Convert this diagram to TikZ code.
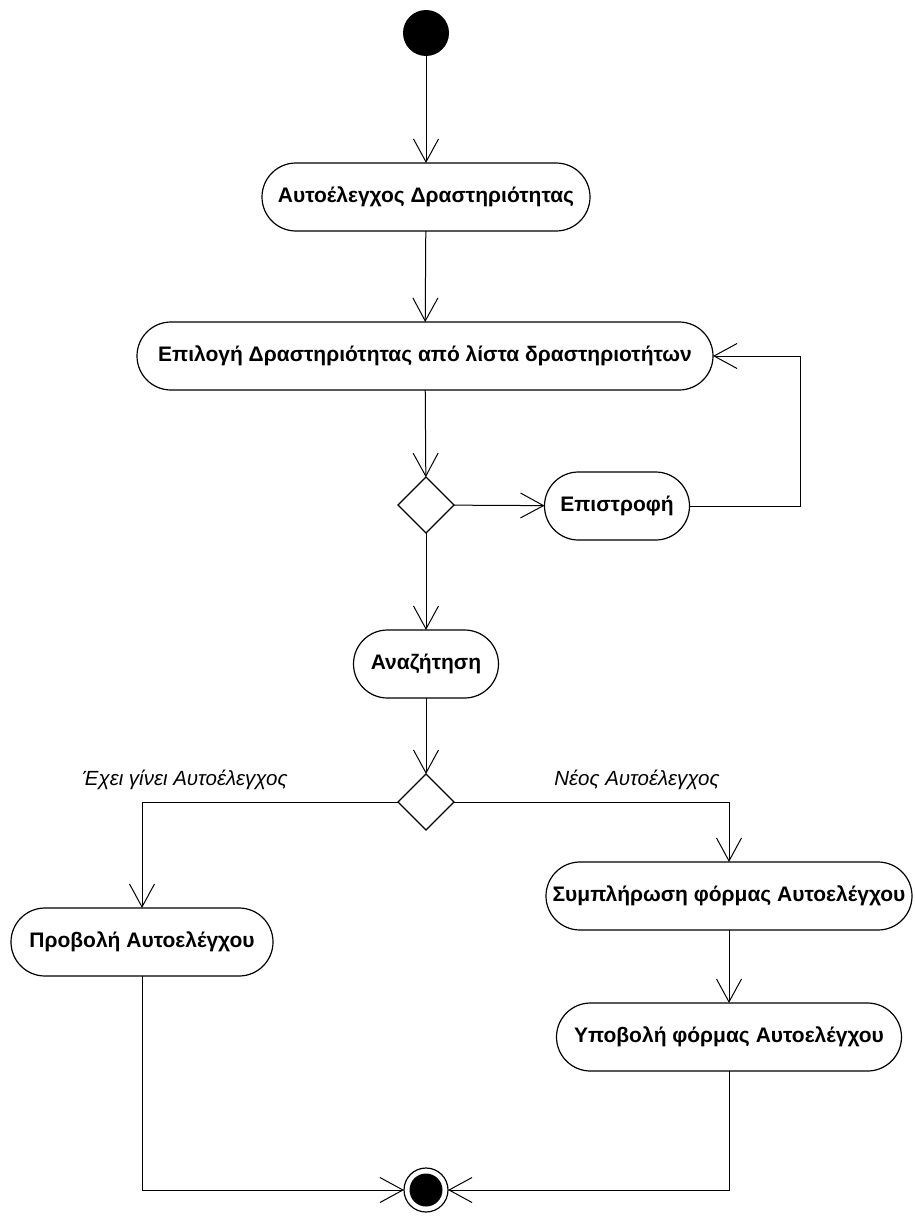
\documentclass[tikz,border=0pt]{standalone}
\usepackage{fontspec}
\setmainfont{Liberation Sans}
\usetikzlibrary{arrows.meta,shapes.geometric}
\begin{document}
\begin{tikzpicture}[x=1pt,y=-1pt,
  every node/.style={inner sep=0pt,outer sep=0pt},
  action/.style={draw,line width=1.2pt,rounded corners=34pt,minimum height=68pt,
    font=\fontsize{21}{24}\selectfont\bfseries,fill=white},
  choice/.style={draw,line width=1.2pt,diamond,minimum width=56pt,minimum height=56pt,fill=white},
  guard/.style={font=\fontsize{20.5}{24}\selectfont\itshape},
  flow/.style={line width=1pt,-{Straight Barb[length=23pt,width=25pt,line width=1pt]}}]
\useasboundingbox (0,0) rectangle (914,1223);
% start and end states
\node[circle,fill=black,minimum size=46pt] (start) at (426,33) {};
\node[circle,draw,line width=1.2pt,minimum size=44pt] (stop) at (426,1190) {};
\fill (stop.center) circle (16.5pt);
% actions
\node[action,minimum width=328pt] (check) at (426,197) {Αυτοέλεγχος Δραστηριότητας};
\node[action,minimum width=576pt] (pick) at (425,356) {Επιλογή Δραστηριότητας από λίστα δραστηριοτήτων};
\node[choice] (d1) at (426,505) {};
\node[action,minimum width=145pt] (back) at (617,506) {Επιστροφή};
\node[action,minimum width=145pt] (search) at (426,664) {Αναζήτηση};
\node[choice] (d2) at (426,802) {};
\node[action,minimum width=262pt] (view) at (142,942) {Προβολή Αυτοελέγχου};
\node[action,minimum width=366pt] (fill) at (729,896) {Συμπλήρωση φόρμας Αυτοελέγχου};
\node[action,minimum width=345pt] (submit) at (729,1037) {Υποβολή φόρμας Αυτοελέγχου};
% guards
\node[guard] (g1) at (185,780) {Έχει γίνει Αυτοέλεγχος};
\node[guard] (g2) at (637,780) {Νέος Αυτοέλεγχος};
\coordinate (loop) at (800,506);
% flows
\draw[flow] (start) -- (check);
\draw[flow] (check) -- (pick);
\draw[flow] (pick) -- (d1);
\draw[flow] (d1) -- (back);
\draw[flow] (back) -- (loop) |- (pick.east);
\draw[flow] (d1) -- (search);
\draw[flow] (search) -- (d2);
\draw[flow] (d2.west) -| (view.north);
\draw[flow] (d2.east) -| (fill.north);
\draw[flow] (fill) -- (submit);
\draw[flow] (view.south) |- (stop.west);
\draw[flow] (submit.south) |- (stop.east);
\end{tikzpicture}
\end{document}
